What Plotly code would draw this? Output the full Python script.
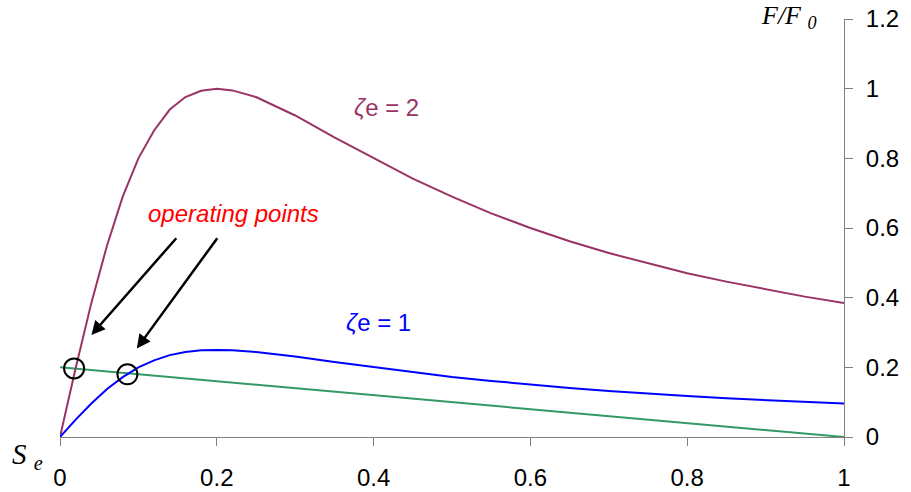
import plotly.graph_objects as go

# Substrate concentration S_e (fraction of feed)
s_e = [0, 0.02, 0.04, 0.06, 0.08, 0.10, 0.12, 0.14, 0.16, 0.18, 0.20, 0.22, 0.25,
       0.30, 0.35, 0.40, 0.45, 0.50, 0.55, 0.60, 0.65, 0.70, 0.75, 0.80, 0.85,
       0.90, 0.95, 1.00]

# Production curve F/F0 for zeta_e = 2
f_zeta2 = [0, 0.198, 0.385, 0.55, 0.69, 0.80, 0.88, 0.94, 0.976, 0.994, 1.00, 0.995,
           0.976, 0.923, 0.86, 0.80, 0.742, 0.69, 0.642, 0.60, 0.562, 0.528, 0.498,
           0.47, 0.446, 0.424, 0.403, 0.385]

# Production curve F/F0 for zeta_e = 1
f_zeta1 = [0, 0.05, 0.096, 0.138, 0.172, 0.20, 0.22, 0.235, 0.244, 0.249, 0.25, 0.249,
           0.244, 0.231, 0.215, 0.20, 0.186, 0.172, 0.161, 0.15, 0.141, 0.132, 0.124,
           0.118, 0.111, 0.106, 0.10, 0.096]

# Supply (washout) line
supply_s = [0, 0.25, 0.50, 0.75, 1.00]
supply_f = [0.20, 0.15, 0.10, 0.05, 0.0]

# Intersections of the supply line with the two curves
op_s = [0.018, 0.086]
op_f = [0.197, 0.180]

x_ticks = [0, 0.2, 0.4, 0.6, 0.8, 1]
y_ticks = [0, 0.2, 0.4, 0.6, 0.8, 1, 1.2]

PLUM = "#993366"
BLUE = "#0000FF"
GREEN = "#339966"
AXIS = "#808080"

fig = go.Figure()
fig.add_trace(go.Scatter(x=supply_s, y=supply_f, mode="lines",
                         line=dict(color=GREEN, width=2), hoverinfo="skip"))
fig.add_trace(go.Scatter(x=s_e, y=f_zeta2, mode="lines",
                         line=dict(color=PLUM, width=2), hoverinfo="skip"))
fig.add_trace(go.Scatter(x=s_e, y=f_zeta1, mode="lines",
                         line=dict(color=BLUE, width=2), hoverinfo="skip"))
fig.add_trace(go.Scatter(x=op_s, y=op_f, mode="markers",
                         marker=dict(symbol="circle-open", size=20,
                                     color="black", line=dict(color="black", width=2)),
                         hoverinfo="skip"))

tick_font = dict(family="Liberation Sans, Arial, sans-serif", size=24, color="black")

fig.update_layout(
    width=911, height=492,
    margin=dict(l=60, r=67, t=19, b=55),
    paper_bgcolor="white", plot_bgcolor="white",
    showlegend=False,
    xaxis=dict(range=[0, 1], tickvals=x_ticks, ticktext=[f"{v:g}" for v in x_ticks],
               showgrid=False, zeroline=False, showline=True, linecolor=AXIS, linewidth=1,
               ticks="outside", ticklen=8, tickcolor=AXIS, tickfont=tick_font,
               ticklabelstandoff=11, automargin=False),
    yaxis=dict(range=[0, 1.2], tickvals=y_ticks, ticktext=[f"{v:g}" for v in y_ticks],
               side="right", showgrid=False, zeroline=False, showline=True,
               linecolor=AXIS, linewidth=1, ticks="outside", ticklen=8, tickcolor=AXIS,
               tickfont=tick_font, ticklabelstandoff=8, automargin=False),
)

serif = "Liberation Serif, Times New Roman, serif"
sans = "Liberation Sans, Arial, sans-serif"

# Axis titles
fig.add_annotation(xref="paper", yref="paper", x=0.968, y=1.005, xanchor="right", yanchor="middle",
                   text="<i>F/F <sub>0</sub></i>", showarrow=False,
                   font=dict(family=serif, size=26, color="black"))
fig.add_annotation(xref="paper", yref="paper", x=-0.064, y=-0.045, xanchor="left", yanchor="middle",
                   text="<i>S <sub>e</sub></i>", showarrow=False,
                   font=dict(family=serif, size=29, color="black"))

# Curve labels
fig.add_annotation(x=0.372, y=0.945, xanchor="left", yanchor="middle",
                   text="<i>ζ</i>e = 2", showarrow=False,
                   font=dict(family=sans, size=24, color=PLUM))
fig.add_annotation(x=0.362, y=0.33, xanchor="left", yanchor="middle",
                   text="<i>ζ</i>e = 1", showarrow=False,
                   font=dict(family=sans, size=24, color=BLUE))

# Operating points callout
fig.add_annotation(x=0.221, y=0.643, xanchor="center", yanchor="middle",
                   text="<i>operating points</i>", showarrow=False,
                   font=dict(family=sans, size=24, color="#FF0000"))
fig.add_annotation(x=0.040, y=0.293, ax=0.150, ay=0.575, xref="x", yref="y",
                   axref="x", ayref="y", text="", showarrow=True,
                   arrowhead=2, arrowsize=1.1, arrowwidth=2.5, arrowcolor="black")
fig.add_annotation(x=0.098, y=0.254, ax=0.202, ay=0.575, xref="x", yref="y",
                   axref="x", ayref="y", text="", showarrow=True,
                   arrowhead=2, arrowsize=1.1, arrowwidth=2.5, arrowcolor="black")

fig.write_html("out.html")
